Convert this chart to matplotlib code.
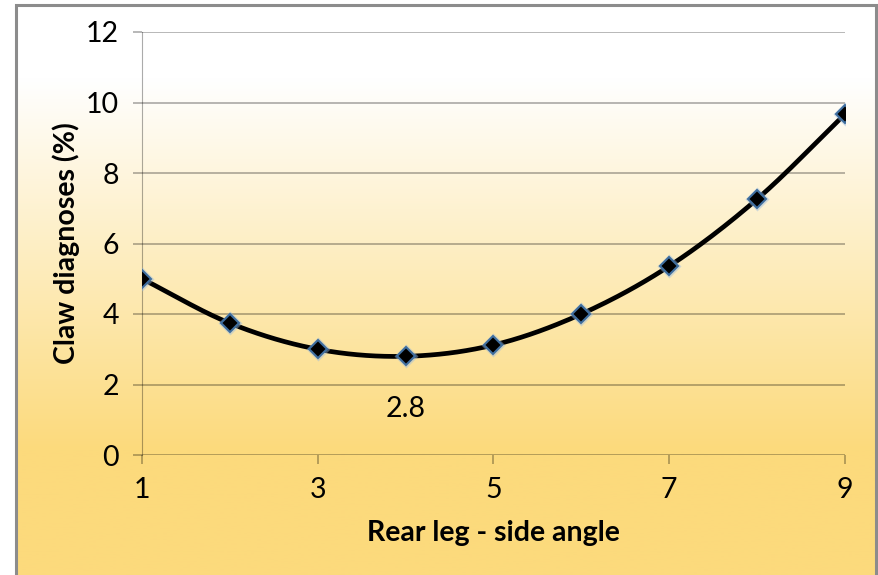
"""Claw diagnoses against rear leg side angle score."""

import matplotlib.pyplot as plt
import numpy as np
from matplotlib.patches import Rectangle

plt.rcParams["font.family"] = ["Lato", "DejaVu Sans"]

angle_score = [1, 2, 3, 4, 5, 6, 7, 8, 9]
claw_pct = [5.0, 3.74, 3.0, 2.8, 3.12, 4.0, 5.36, 7.26, 9.67]
x_ticks = [1, 3, 5, 7, 9]
y_ticks = [0, 2, 4, 6, 8, 10, 12]
min_label = "2.8"

W, H = 879, 575
FRAME_L, FRAME_R, FRAME_T = 16, 876, 5
FS = 20.5


def smooth_curve(x, y, steps=30):
    """Catmull-Rom style curve through every point, like a spreadsheet smoothed line."""
    x = np.asarray(x, float)
    y = np.asarray(y, float)
    px = np.concatenate([[2 * x[0] - x[1]], x, [2 * x[-1] - x[-2]]])
    py = np.concatenate([[2 * y[0] - y[1]], y, [2 * y[-1] - y[-2]]])
    t = np.linspace(0, 1, steps)[:, None]
    out_x, out_y = [], []
    for i in range(1, len(px) - 2):
        for p, out in ((px, out_x), (py, out_y)):
            p0, p1, p2, p3 = p[i - 1], p[i], p[i + 1], p[i + 2]
            seg = 0.5 * ((2 * p1) + (-p0 + p2) * t
                         + (2 * p0 - 5 * p1 + 4 * p2 - p3) * t ** 2
                         + (-p0 + 3 * p1 - 3 * p2 + p3) * t ** 3)
            out.append(seg.ravel())
    return np.concatenate(out_x), np.concatenate(out_y)


fig = plt.figure(figsize=(W / 100, H / 100), dpi=100)
fig.patch.set_facecolor("white")

# white-to-gold gradient fill inside the frame
bg = fig.add_axes([FRAME_L / W, 0, (FRAME_R - FRAME_L) / W, 1 - FRAME_T / H], zorder=-5)
rows = np.linspace(0, 1, 400)[:, None]
ramp = np.clip((rows - 0.13) / 0.65, 0, 1)
white = np.array([255, 255, 255]) / 255
gold = np.array([252, 218, 124]) / 255
grad = white + (gold - white) * ramp[..., None]
bg.imshow(grad, aspect="auto", extent=[0, 1, 1, 0])
bg.set_axis_off()
fig.patches.append(Rectangle((FRAME_L / W, -0.05), (FRAME_R - FRAME_L) / W, 1.05 - FRAME_T / H,
                             transform=fig.transFigure, fill=False,
                             edgecolor="#8c8c8c", linewidth=2.2, zorder=10))

ax = fig.add_axes([142 / W, 1 - 455 / H, (845 - 142) / W, (455 - 32) / H])
ax.patch.set_alpha(0)

cx, cy = smooth_curve(angle_score, claw_pct)
ax.plot(cx, cy, color="black", linewidth=3.4, solid_capstyle="round", zorder=3)
ax.plot(angle_score, claw_pct, linestyle="none", marker="D", markersize=12.5,
        markerfacecolor="#9bbbe0", markeredgecolor="none", alpha=0.45, zorder=4)
ax.plot(angle_score, claw_pct, linestyle="none", marker="D", markersize=9,
        markerfacecolor="black", markeredgecolor="#3f6e9f", markeredgewidth=1.5, zorder=5)

i_min = int(np.argmin(claw_pct))
ax.annotate(min_label, (angle_score[i_min], claw_pct[i_min]), xytext=(0, -38),
            textcoords="offset points", ha="center", va="center", fontsize=FS)

ax.set_xlim(1, 9)
ax.set_ylim(0, 12)
ax.set_xticks(x_ticks)
ax.set_yticks(y_ticks)
ax.yaxis.grid(True, color="black", alpha=0.33, linewidth=1.2)
ax.set_axisbelow(True)
for side in ("top", "right", "bottom"):
    ax.spines[side].set_visible(False)
ax.spines["left"].set_color((0, 0, 0, 0.33))
ax.tick_params(axis="both", labelsize=FS, length=6.5, width=1.2, color=(0, 0, 0, 0.33))
ax.tick_params(axis="y", pad=10)
ax.tick_params(axis="x", pad=9)

ax.set_xlabel("Rear leg - side angle", fontsize=FS, fontweight="bold", va="center")
ax.set_ylabel("Claw diagnoses (%)", fontsize=FS, fontweight="bold", va="center")
ax.xaxis.set_label_coords(0.5, (455 - 533) / 423)
ax.yaxis.set_label_coords((66 - 142) / 703, 0.5)

fig.savefig("out.png", dpi=100)
